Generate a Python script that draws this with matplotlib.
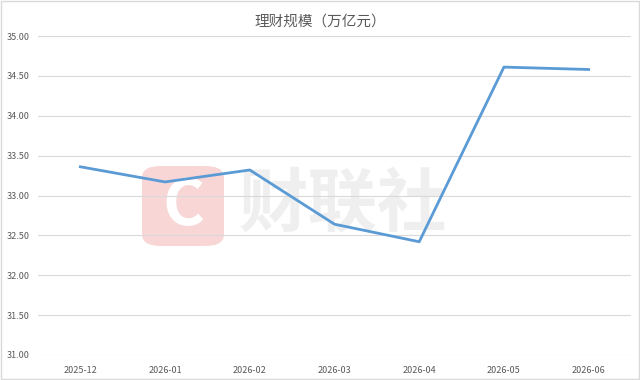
import matplotlib.pyplot as plt
from matplotlib.patches import FancyBboxPatch

plt.rcParams['font.family'] = ['Noto Sans CJK SC', 'DejaVu Sans']

months = ['2025-12', '2026-01', '2026-02', '2026-03', '2026-04', '2026-05', '2026-06']
scale = [33.36, 33.17, 33.32, 32.64, 32.42, 34.61, 34.58]
yticks = [31.0, 31.5, 32.0, 32.5, 33.0, 33.5, 34.0, 34.5, 35.0]

fig = plt.figure(figsize=(6.4, 3.8), dpi=100)
ax = fig.add_axes([38 / 640, 1 - 355 / 380, 593 / 640, 319 / 380])
ax.set_zorder(2)

# watermark (behind the axes)
fig.patches.append(FancyBboxPatch((142 / 640, 1 - 246 / 380), 82 / 640, 80 / 380,
                                  boxstyle='round,pad=0,rounding_size=0.03',
                                  transform=fig.transFigure, fc='#f8d6d6', ec='none', zorder=0))
fig.text(183 / 640, 1 - 206 / 380, 'C', fontsize=46, fontweight='bold', color='white',
         ha='center', va='center', zorder=1)
fig.text(342 / 640, 1 - 206 / 380, '财联社', fontsize=50, fontweight='bold', color='#efefef',
         ha='center', va='center', zorder=1)

x = list(range(len(months)))
ax.plot(x, scale, color='#5b9bd5', lw=2, zorder=3)

ax.set_xlim(-0.5, len(months) - 0.5)
ax.set_ylim(31.0, 35.0)
ax.set_yticks(yticks)
ax.set_yticklabels([f'{v:.2f}' for v in yticks])
ax.set_xticks(x)
ax.set_xticklabels(months)
ax.tick_params(length=0, labelsize=6.5, labelcolor='#595959')
ax.tick_params(axis='y', pad=6)
ax.tick_params(axis='x', pad=8)
ax.grid(axis='y', color='#d9d9d9', lw=0.8)
ax.set_axisbelow(True)
for s in ax.spines.values():
    s.set_visible(False)
ax.patch.set_alpha(0)

fig.text(0.5, 1 - 22 / 380, '理财规模（万亿元）', fontsize=10.5, color='#595959', ha='center', va='center')

fig.patches.append(plt.Rectangle((0.001, 0.002), 0.997, 0.996, transform=fig.transFigure,
                                 fill=False, ec='#d9d9d9', lw=1))

fig.savefig('out.png', dpi=100)
